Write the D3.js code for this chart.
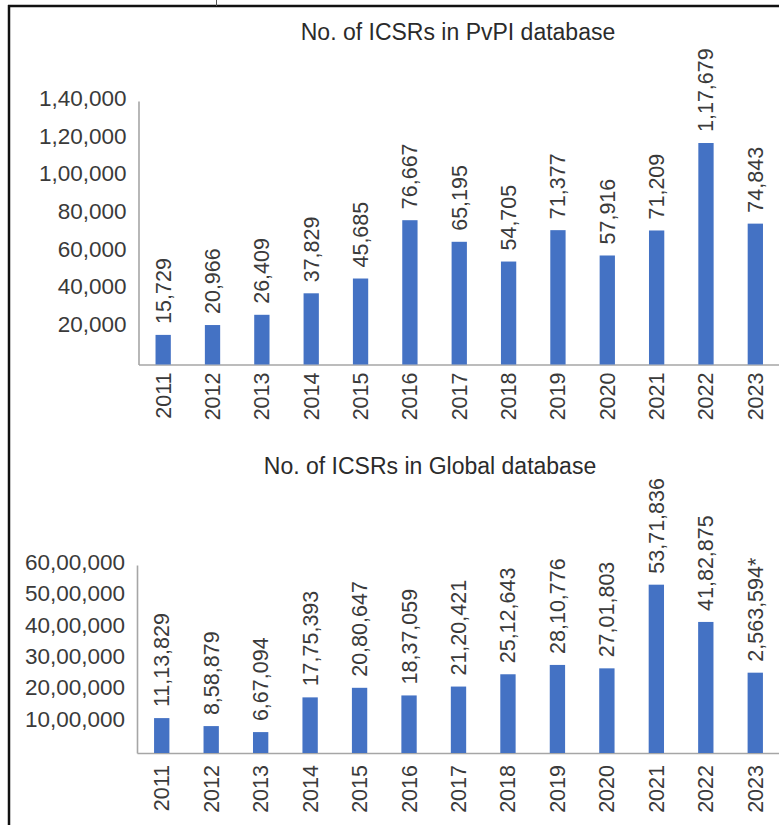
<!DOCTYPE html>
<html>
<head>
<meta charset="utf-8">
<script src="https://cdn.jsdelivr.net/npm/d3@7"></script>
<style>
  body { margin: 0; background: #fff; }
  svg text { font-family: "Liberation Sans", Arial, sans-serif; fill: #3a3a3a; }
  .title { font-size: 23px; fill: #2b2b2b; }
  .axis text { font-size: 21.5px; }
  .y-axis text { font-size: 22.5px; }
  .axis path { stroke: #a6a6a6; stroke-width: 1.6px; }
  .bar-label { font-size: 21.5px; }
  .bar { fill: #4472c4; }
</style>
</head>
<body>
<div id="chart"></div>
<script>

// ----------------------------------------------------------
//                          Data
// ----------------------------------------------------------

const years = ["2011", "2012", "2013", "2014", "2015", "2016", "2017",
               "2018", "2019", "2020", "2021", "2022", "2023"];

// ICSRs in PvPI database
const pvpiCounts = [15729, 20966, 26409, 37829, 45685, 76667, 65195,
                    54705, 71377, 57916, 71209, 117679, 74843];
const pvpiTicks = [20000, 40000, 60000, 80000, 100000, 120000, 140000];

// ICSRs in Global database
const globalCounts = [1113829, 858879, 667094, 1775393, 2080647, 1837059, 2120421,
                      2512643, 2810776, 2701803, 5371836, 4182875, 2563594];
const globalTicks = [1000000, 2000000, 3000000, 4000000, 5000000, 6000000];
// one label is printed in the western format with a footnote mark
const globalLabelOverride = { "2023": "2,563,594*" };


// ----------------------------------------------------------
//                       Definitions
// ----------------------------------------------------------

// indian digit grouping: 1,17,679 / 53,71,836
const indian = d3.formatLocale({
    decimal: ".",
    thousands: ",",
    grouping: [3, 2, 2, 2, 2, 2, 2],
    currency: ["", ""]
}).format(",d");

const svg = d3.select("#chart")
    .append("svg")
    .attr("width", 779)
    .attr("height", 825);

// frame of the scanned figure
svg.append("line")
    .attr("x1", 9).attr("x2", 9).attr("y1", 5).attr("y2", 825)
    .style("stroke", "#111").style("stroke-width", 2.5);
svg.append("line")
    .attr("x1", 8).attr("x2", 779).attr("y1", 6).attr("y2", 6)
    .style("stroke", "#111").style("stroke-width", 2.5);
svg.append("line")
    .attr("x1", 216.5).attr("x2", 216.5).attr("y1", 0).attr("y2", 6)
    .style("stroke", "#555").style("stroke-width", 1);


// ----------------------------------------------------------
//                         Drawing
// ----------------------------------------------------------

function drawBarChart(opts) {
    const g = svg.append("g");

    const x = d3.scaleBand()
        .domain(opts.categories)
        .range([opts.left, opts.right])
        .paddingInner(0.69)
        .paddingOuter(0.345);

    const y = d3.scaleLinear()
        .domain([0, opts.max])
        .range([opts.bottom, opts.top]);

    // title
    g.append("text")
        .attr("class", "title")
        .attr("x", opts.titleX)
        .attr("y", opts.titleY)
        .attr("text-anchor", "middle")
        .text(opts.title);

    // y axis
    g.append("g")
        .attr("class", "axis y-axis")
        .attr("transform", "translate(" + opts.left + ",0)")
        .call(d3.axisLeft(y).tickValues(opts.ticks).tickFormat(indian).tickSize(0).tickPadding(12))
        .call((a) => a.selectAll("text").attr("dy", "0.2em"));

    // x axis (years, rotated)
    g.append("g")
        .attr("class", "axis")
        .attr("transform", "translate(0," + opts.bottom + ")")
        .call(d3.axisBottom(x).tickSize(0).tickPadding(0))
        .call((a) => a.selectAll("text")
            .attr("text-anchor", "end")
            .attr("dy", null)
            .attr("y", 0)
            .attr("transform", "translate(" + 7.5 + "," + opts.yearGap + ") rotate(-90)"));

    // bars
    g.selectAll(".bar")
        .data(opts.values)
        .enter()
        .append("rect")
        .attr("class", "bar")
        .attr("x", (d, i) => x(opts.categories[i]))
        .attr("width", x.bandwidth())
        .attr("y", (d) => y(d))
        .attr("height", (d) => y(0) - y(d));

    // value labels on top of bars
    g.selectAll(".bar-label")
        .data(opts.values)
        .enter()
        .append("text")
        .attr("class", "bar-label")
        .attr("text-anchor", "start")
        .attr("transform", (d, i) => {
            const cx = x(opts.categories[i]) + x.bandwidth() / 2 + 7.5;
            return "translate(" + cx + "," + (y(d) - 11) + ") rotate(-90)";
        })
        .text((d, i) => opts.labelOverride[opts.categories[i]] || indian(d));
}

drawBarChart({
    title: "No. of ICSRs in PvPI database",
    titleX: 458, titleY: 39.5,
    categories: years,
    values: pvpiCounts,
    ticks: pvpiTicks,
    max: 140000,
    labelOverride: {},
    left: 138.5, right: 780,
    top: 101, bottom: 364.5,
    yearGap: 8
});

drawBarChart({
    title: "No. of ICSRs in Global database",
    titleX: 430, titleY: 474,
    categories: years,
    values: globalCounts,
    ticks: globalTicks,
    max: 6000000,
    labelOverride: globalLabelOverride,
    left: 137, right: 780,
    top: 565, bottom: 753,
    yearGap: 12
});

</script>
</body>
</html>
